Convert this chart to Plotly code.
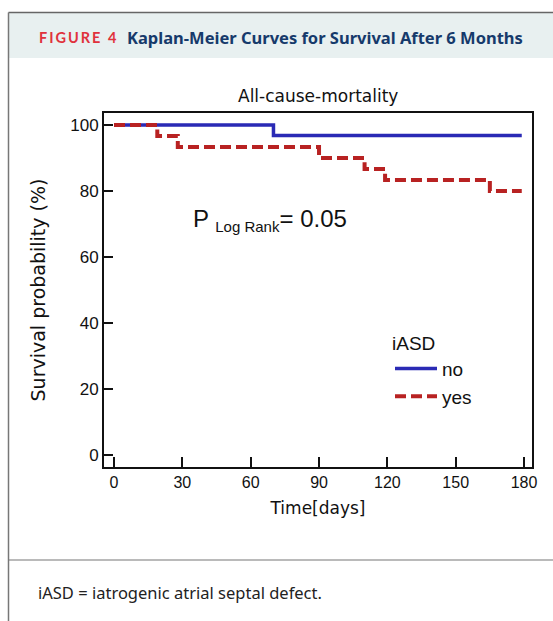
import plotly.graph_objects as go

# ---- data ----
days_no = [0, 70, 179]
surv_no = [100, 96.8, 96.8]
days_yes = [0, 19, 28, 90, 110, 119, 165, 179]
surv_yes = [100, 96.67, 93.33, 90.0, 86.67, 83.33, 80.0, 80.0]
x_ticks = [0, 30, 60, 90, 120, 150, 180]
y_ticks = [0, 20, 40, 60, 80, 100]

W, H = 553, 621
L, R, T, B = 104, 532, 113, 467

def px(x):
    return (x - L) / (R - L)

def py(y):
    return (B - y) / (B - T)

tick_font = "Liberation Sans"
title_font = "DejaVu Sans"

fig = go.Figure()
fig.add_trace(go.Scatter(x=days_no, y=surv_no, mode="lines", name="no",
                         line=dict(color="#2a2ab5", width=3.5, shape="hv")))
fig.add_trace(go.Scatter(x=days_yes, y=surv_yes, mode="lines", name="yes",
                         line=dict(color="#b82222", width=4, shape="hv", dash="11px,5px")))

fig.update_layout(
    width=W, height=H,
    margin=dict(l=L, r=W - R, t=T, b=H - B, pad=0),
    paper_bgcolor="white", plot_bgcolor="white",
    font=dict(family=tick_font, color="#111", size=16),
    showlegend=True,
    legend=dict(
        x=px(390), y=py(325), xanchor="left", yanchor="top",
        bgcolor="rgba(0,0,0,0)",
        title=dict(text="iASD", font=dict(size=19, family=tick_font)),
        font=dict(size=19, family=tick_font),
        itemwidth=42, tracegroupgap=0,
    ),
)

fig.update_xaxes(
    range=[-4.4, 183.5], tickvals=x_ticks, ticktext=[str(v) for v in x_ticks],
    ticks="inside", ticklen=10, tickwidth=1.5, tickcolor="#111",
    showline=True, linecolor="#111", linewidth=2, mirror=True,
    showgrid=False, zeroline=False, tickfont=dict(size=16),
    title=dict(text="Time[days]", font=dict(size=17, family=title_font), standoff=12),
)
fig.update_yaxes(
    range=[-3.6, 103.6], tickvals=y_ticks, ticktext=[str(v) for v in y_ticks],
    ticks="inside", ticklen=9, tickwidth=1.5, tickcolor="#111",
    showline=True, linecolor="#111", linewidth=2, mirror=True,
    showgrid=False, zeroline=False, tickfont=dict(size=17),
    title=dict(text="Survival probability (%)", font=dict(size=19, family=title_font), standoff=20),
)

annotations = [
    dict(text="All-cause-mortality", x=px(318), y=py(96), xref="paper", yref="paper",
         xanchor="center", yanchor="middle", showarrow=False,
         font=dict(size=17, family=title_font, color="#111")),
    dict(text="P <sub><span style='font-size:15px'>Log Rank</span></sub>= 0.05", x=px(191), y=py(220),
         xref="paper", yref="paper", xanchor="left", yanchor="middle", showarrow=False,
         font=dict(size=24, family=tick_font, color="#111")),
    dict(text="<span style='letter-spacing:2px'><b>FIGURE 4</b></span>", x=px(37), y=py(37),
         xref="paper", yref="paper", xanchor="left", yanchor="middle", showarrow=False,
         font=dict(size=14.5, family="Lato", color="#e0323c")),
    dict(text="<b>Kaplan-Meier Curves for Survival After 6 Months</b>", x=px(125), y=py(37),
         xref="paper", yref="paper", xanchor="left", yanchor="middle", showarrow=False,
         font=dict(size=16.5, family="Noto Sans", color="#163a6b")),
    dict(text="iASD = iatrogenic atrial septal defect.", x=px(36), y=py(592), xref="paper",
         yref="paper", xanchor="left", yanchor="middle", showarrow=False,
         font=dict(size=16.5, family="Noto Sans", color="#222")),
]
fig.update_layout(annotations=annotations)

shapes = [
    dict(type="rect", xref="paper", yref="paper", x0=px(8.5), x1=px(570), y0=py(12.5), y1=py(58),
         fillcolor="#e8f0f0", line=dict(width=0), layer="below"),
    dict(type="line", xref="paper", yref="paper", x0=px(8.5), x1=px(570), y0=py(12.5), y1=py(12.5),
         line=dict(color="#666", width=1.5)),
    dict(type="line", xref="paper", yref="paper", x0=px(8.5), x1=px(8.5), y0=py(12.5), y1=py(640),
         line=dict(color="#777", width=1.5)),
    dict(type="line", xref="paper", yref="paper", x0=px(8.5), x1=px(570), y0=py(560), y1=py(560),
         line=dict(color="#777", width=1.2)),
]
fig.update_layout(shapes=shapes)

fig.write_html("out.html", config={"displayModeBar": False},
               post_script="document.body.style.margin='0';")
